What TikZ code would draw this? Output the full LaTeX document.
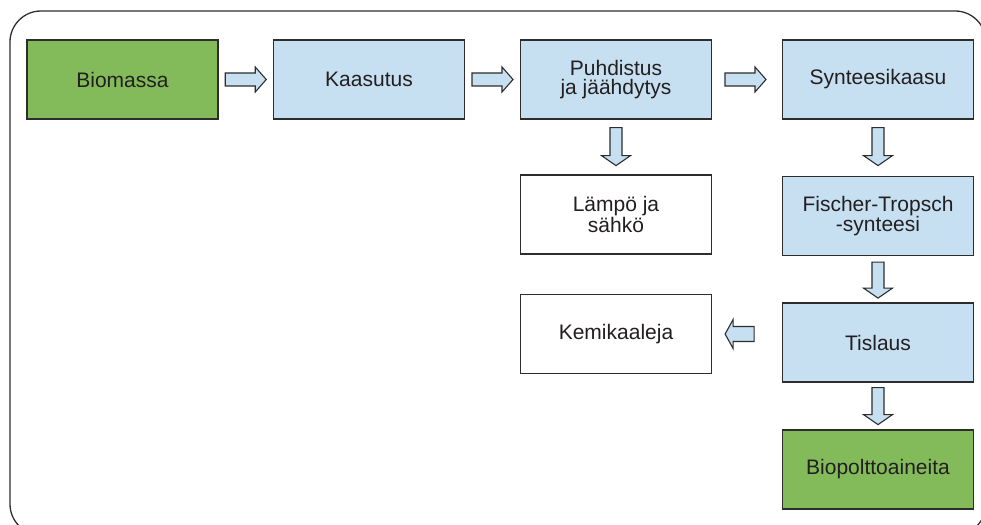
\documentclass[tikz,border=0pt]{standalone}
\usepackage{fontspec}
\setmainfont{Liberation Sans}
\usetikzlibrary{calc}
\definecolor{boxgreen}{RGB}{131,187,91}
\definecolor{boxblue}{RGB}{198,224,242}
\definecolor{lineg}{RGB}{45,45,45}
\definecolor{textg}{RGB}{35,31,32}
\newcommand{\blockarrow}[6]{% from, angle, length, shaft half, head half, head length
  \draw[barrow, shift={(#1)}, rotate=#2] (0,-#4) -- ({#3-#6},-#4) -- ({#3-#6},-#5) -- (#3,0) -- ({#3-#6},#5) -- ({#3-#6},#4) -- (0,#4) -- cycle;}
\begin{document}
\begin{tikzpicture}[x=1pt,y=1pt,
  box/.style={draw=lineg, line width=1.2pt, minimum width=191pt, minimum height=79pt, inner sep=0pt, align=center, text=textg, font=\fontsize{21}{19.5}\selectfont},
  greenbox/.style={box, fill=boxgreen},
  bluebox/.style={box, fill=boxblue},
  whitebox/.style={box, fill=white},
  barrow/.style={draw=lineg, line width=1.1pt, fill=boxblue, line join=miter}]
\clip (0,0) rectangle (981,-524);
\fill[white] (0,0) rectangle (981,-524);
\draw[lineg, line width=1.3pt, rounded corners=31pt] (10,-11) rectangle (986,-535);
\node[greenbox] (bio) at (122.5,-79.5) {Biomassa};
\node[bluebox] (kaa) at (369,-79.5) {Kaasutus};
\node[bluebox] (puh) at (616,-79.5) {Puhdistus\\ja jäähdytys};
\node[bluebox] (syn) at (878,-79.5) {Synteesikaasu};
\node[whitebox] (lam) at (616,-214.5) {Lämpö ja\\sähkö};
\node[whitebox] (kem) at (616,-334) {Kemikaaleja};
\node[bluebox] (ft) at (878,-216) {Fischer-Tropsch\\-synteesi};
\node[bluebox] (tis) at (878,-342.5) {Tislaus};
\node[greenbox] (biop) at (878,-469.5) {Biopolttoaineita};
% arrow tails
\coordinate (a1) at ($(bio.east)!0.5!(kaa.west)+(-20.5,0)$);
\coordinate (a2) at ($(kaa.east)!0.5!(puh.west)+(-20.5,0)$);
\coordinate (a3) at ($(puh.east)!0.5!(syn.west)+(-22,0)$);
\coordinate (a4) at ($(puh.south)+(0,-8)$);
\coordinate (a5) at ($(syn.south)+(0,-8)$);
\coordinate (a6) at ($(ft.south)+(0,-6)$);
\coordinate (a7) at ($(tis.south)+(0,-5)$);
\coordinate (a8) at ($(kem.east)+(42,0)$);
\blockarrow{a1}{0}{41}{6.5}{12.5}{11}
\blockarrow{a2}{0}{41}{6.5}{12.5}{11}
\blockarrow{a3}{0}{41}{6.5}{12.5}{11}
\blockarrow{a4}{-90}{38}{6}{14.5}{10}
\blockarrow{a5}{-90}{38}{6}{14.5}{10}
\blockarrow{a6}{-90}{36}{6}{14.5}{10}
\blockarrow{a7}{-90}{37}{6}{14.5}{10}
\blockarrow{a8}{180}{29}{7.5}{14.5}{8}
\end{tikzpicture}
\end{document}
